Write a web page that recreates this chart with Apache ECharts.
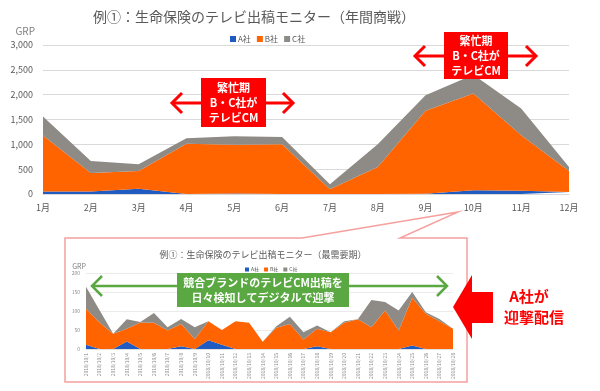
<!DOCTYPE html>
<html><head><meta charset="utf-8">
<script src="https://cdn.jsdelivr.net/npm/echarts@6/dist/echarts.min.js"></script>
<style>html,body{margin:0;padding:0;background:#fff}#c{width:600px;height:391px}</style>
</head><body><div id="c"></div>
<script>
const months = ['1月','2月','3月','4月','5月','6月','7月','8月','9月','10月','11月','12月'];
const mainA = [50,50,105,0,10,0,0,0,5,75,65,40];
const mainB = [1130,375,360,1010,980,1000,95,545,1670,1950,1120,425];
const mainC = [380,240,135,115,175,150,100,455,315,375,535,80];

const days = ['2018/10/1','2018/10/2','2018/10/3','2018/10/4','2018/10/5','2018/10/6','2018/10/7',
  '2018/10/8','2018/10/9','2018/10/10','2018/10/11','2018/10/12','2018/10/13','2018/10/14',
  '2018/10/15','2018/10/16','2018/10/17','2018/10/18','2018/10/19','2018/10/20','2018/10/21',
  '2018/10/22','2018/10/23','2018/10/24','2018/10/25','2018/10/26','2018/10/27','2018/10/28'];
const dayA = [11,0,0,20,0,0,0,7,0,23,11,0,0,0,0,0,0,7,0,0,0,0,0,0,9,0,0,0];
const dayB = [95,70,40,33,70,69,49,59,26,50,39,73,69,19,56,66,25,46,44,69,78,57,101,49,126,93,73,53];
const dayC = [58,32,0,25,1,26,8,13,31,0,0,0,0,0,4,19,19,9,0,4,0,72,23,52,15,4,6,0];

const seriesNames = ['A社','B社','C社'];
const colors = ['#1F5BC0','#FF6400','#8E8A85'];
const FONT = '"Noto Sans CJK JP","Noto Sans",sans-serif';

function areaSeries(name, data, color, axisIdx, stack){
  return {name, type:'line', stack, data, xAxisIndex:axisIdx, yAxisIndex:axisIdx,
    symbol:'none', lineStyle:{width:0}, areaStyle:{color, opacity:1}, itemStyle:{color},
    silent:true, animation:false};
}
function dblArrow(x1,x2,y,color,w,h){
  const s = {stroke:color, lineWidth:w, fill:null, lineJoin:'miter'};
  return [
    {type:'polyline', shape:{points:[[x1+1,y],[x2-1,y]]}, style:s, z:50},
    {type:'polyline', shape:{points:[[x1+h,y-h],[x1,y],[x1+h,y+h]]}, style:s, z:50},
    {type:'polyline', shape:{points:[[x2-h,y-h],[x2,y],[x2-h,y+h]]}, style:s, z:50}
  ];
}
function textBox(x,y,w,h,fill,lines,fs,lh){
  const els = [{type:'rect', shape:{x,y,width:w,height:h}, style:{fill}, z:60}];
  const cy = y + h/2 - (lines.length-1)*lh/2;
  lines.forEach((t,i)=>els.push({type:'text', z:61, style:{text:t, x:x+w/2, y:cy+i*lh,
    textAlign:'center', textVerticalAlign:'middle', fill:'#fff',
    font:'bold '+fs+'px '+FONT}}));
  return els;
}

const chart = echarts.init(document.getElementById('c'), null, {renderer:'canvas'});
const graphics = [].concat(
  [{type:'text', z:10, style:{text:'例①：生命保険のテレビ出稿モニター（年間商戦）', x:254, y:17,
     textAlign:'center', textVerticalAlign:'middle', fill:'#595959', font:'14px '+FONT}},
   {type:'polygon', z:-1, shape:{points:[[65,238],[302,238],[458,212],[400,238],[467,238],[467,382],[65,382]]},
     style:{fill:'#fff', stroke:'#F6A0A0', lineWidth:1.5}},
   {type:'text', z:10, style:{text:'例①：生命保険のテレビ出稿モニター（最需要期）', x:263, y:255,
     textAlign:'center', textVerticalAlign:'middle', fill:'#595959', font:'9px '+FONT}}],
  dblArrow(172,293,103,'#FF0000',3,10),
  textBox(201,78,65,49,'#FF0000',['繁忙期','B・C社が','テレビCM'],11,15),
  dblArrow(415,536,56,'#FF0000',3,10),
  textBox(444,32,64,47,'#FF0000',['繁忙期','B・C社が','テレビCM'],11,15),
  dblArrow(92,447,286,'#5AA842',2.5,10),
  textBox(177,273,172,34,'#5AA842',['競合ブランドのテレビCM出稿を','日々検知してデジタルで迎撃'],11,15),
  [{type:'polygon', z:60, shape:{points:[[453,307],[472,275],[472,292],[493,292],[493,323],[472,323],[472,339]]},
     style:{fill:'#FF0000'}},
   {type:'text', z:61, style:{text:'A社が', x:529, y:296, textAlign:'center', textVerticalAlign:'middle',
     fill:'#FF0000', font:'bold 15px '+FONT}},
   {type:'text', z:61, style:{text:'迎撃配信', x:534, y:317, textAlign:'center', textVerticalAlign:'middle',
     fill:'#FF0000', font:'bold 15px '+FONT}}]
);

chart.setOption({
  animation:false,
  backgroundColor:'#fff',
  textStyle:{fontFamily:FONT},
  legend:[
    {data:seriesNames, left:225, top:30, itemWidth:6, itemHeight:6, itemGap:6, icon:'rect',
     textStyle:{fontSize:8, color:'#595959', padding:[0,0,0,-3]}},
    {data:seriesNames, left:240, top:262, itemWidth:4, itemHeight:4, itemGap:5, icon:'rect',
     textStyle:{fontSize:5, color:'#595959', padding:[0,0,0,-3]}}
  ],
  grid:[
    {left:43, right:31, top:45, bottom:197, containLabel:false},
    {left:86, right:147, top:273, bottom:42, containLabel:false}
  ],
  xAxis:[
    {type:'category', gridIndex:0, data:months, boundaryGap:false,
     axisLine:{lineStyle:{color:'#D9D9D9'}}, axisTick:{show:false},
     axisLabel:{fontSize:9, color:'#595959', margin:9}},
    {type:'category', gridIndex:1, data:days, boundaryGap:false,
     axisLine:{lineStyle:{color:'#E0E0E0'}}, axisTick:{show:false},
     axisLabel:{fontSize:5, color:'#8A8A8A', rotate:90, interval:0, margin:4}}
  ],
  yAxis:[
    {type:'value', gridIndex:0, min:0, max:3000, interval:500,
     name:'GRP', nameLocation:'end', nameGap:9,
     nameTextStyle:{fontSize:10, color:'#7F7F7F', align:'right', padding:[0,8,0,0]},
     axisLine:{show:false}, axisTick:{show:false},
     axisLabel:{fontSize:9, color:'#595959', margin:10, formatter:v=>v.toLocaleString('en-US')},
     splitLine:{lineStyle:{color:'#D9D9D9'}}},
    {type:'value', gridIndex:1, min:0, max:200, interval:50,
     name:'GRP', nameLocation:'end', nameGap:3,
     nameTextStyle:{fontSize:7, color:'#7F7F7F', align:'right', padding:[0,0,0,0]},
     axisLine:{show:false}, axisTick:{show:false},
     axisLabel:{fontSize:5, color:'#8A8A8A', margin:6},
     splitLine:{lineStyle:{color:'#EBEBEB'}}}
  ],
  series:[
    areaSeries('A社', mainA, colors[0], 0, 'm'),
    areaSeries('B社', mainB, colors[1], 0, 'm'),
    areaSeries('C社', mainC, colors[2], 0, 'm'),
    areaSeries('A社', dayA, colors[0], 1, 'd'),
    areaSeries('B社', dayB, colors[1], 1, 'd'),
    areaSeries('C社', dayC, colors[2], 1, 'd')
  ],
  graphic:{elements:graphics}
});
</script></body></html>
